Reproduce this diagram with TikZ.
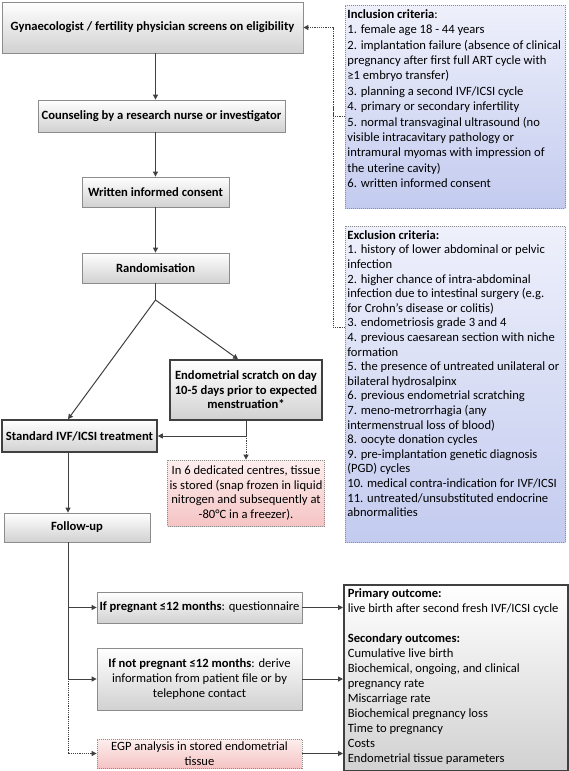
\documentclass[tikz,border=0pt]{standalone}
\usepackage{fontspec}
\setmainfont{Carlito}
\usetikzlibrary{arrows.meta, positioning, calc}

\definecolor{linegray}{HTML}{404040}
\definecolor{boxedge}{HTML}{8C8C8C}
\definecolor{bluetop}{HTML}{EEF0FB}
\definecolor{bluebottom}{HTML}{C3CBEF}
\definecolor{pinktop}{HTML}{FDEEEE}
\definecolor{pinkbottom}{HTML}{F5C4C4}

\begin{document}
\begin{tikzpicture}[x=1pt, y=-1pt,
    font=\fontsize{12.6}{14.6}\selectfont,
    stepbox/.style={draw=boxedge, line width=0.8pt, top color=white, bottom color=black!18, inner sep=2pt, align=center},
    keybox/.style={stepbox, draw=linegray, line width=1.6pt},
    storebox/.style={stepbox, dash pattern=on 1pt off 1pt, top color=pinktop, bottom color=pinkbottom},
    critbox/.style={draw=boxedge, line width=0.8pt, dash pattern=on 1pt off 1pt, top color=bluetop, bottom color=bluebottom, anchor=north west, inner xsep=2pt, inner ysep=4pt},
    line/.style={draw=linegray, line width=1pt},
    arr/.style={line, -{Triangle[length=5pt,width=5pt]}},
    dotarr/.style={arr, dash pattern=on 1.2pt off 1pt},
    dotline/.style={line, dash pattern=on 1.2pt off 1pt}]

    % Page frame
    \useasboundingbox (0,0) rectangle (568,771);

    % Helper coordinates
    \coordinate (split) at (155.5,300);
    \coordinate (trunk) at (68,0);
    \coordinate (bus) at (333,0);

    % Main flow
    \node[stepbox, minimum width=301, minimum height=51] (screen) at (152.5,27.5) {\textbf{Gynaecologist / fertility physician screens on eligibility}};
    \node[stepbox, minimum width=247, minimum height=32] (counsel) at (161.5,116) {\textbf{Counseling by a research nurse or investigator}};
    \node[stepbox, minimum width=147, minimum height=30] (consent) at (155.5,192) {\textbf{Written informed consent}};
    \node[stepbox, minimum width=147, minimum height=30] (random) at (155.5,268) {\textbf{Randomisation}};

    % Study arms
    \node[keybox, minimum width=152, minimum height=60] (scratch) at (246,390) {\textbf{Endometrial scratch on day}\\\textbf{10-5 days prior to expected}\\\textbf{menstruation*}};
    \node[keybox, minimum width=155, minimum height=32] (standard) at (79.5,436) {\textbf{Standard IVF/ICSI treatment}};
    \node[storebox, minimum width=152, minimum height=66] (tissue) at (246,493) {In 6 dedicated centres, tissue\\is stored (snap frozen in liquid\\nitrogen and subsequently at\\-80°C in a freezer).};

    % Follow-up
    \node[stepbox, minimum width=146, minimum height=29] (followup) at (77,527.5) {\textbf{Follow-up}};
    \node[stepbox, minimum width=205, minimum height=31] (pregnant) at (199.5,607.5) {\textbf{If pregnant ≤12 months}: questionnaire};
    \node[stepbox, minimum width=205, minimum height=62] (notpreg) at (199.5,679) {\textbf{If not pregnant ≤12 months}: derive\\information from patient file or by\\telephone contact};
    \node[storebox, minimum width=205, minimum height=29] (egp) at (199.5,753.5) {EGP analysis in stored endometrial\\tissue};

    % Outcomes
    \node[keybox, anchor=north west, align=left, inner sep=4pt, font=\fontsize{12.6}{15}\selectfont] (outcome) at (343,584) {\parbox[t][178pt][t]{216pt}{\raggedright
        \textbf{Primary outcome:}\\
        live birth after second fresh IVF/ICSI cycle\\[15pt]
        \textbf{Secondary outcomes:}\\
        Cumulative live birth\\
        Biochemical, ongoing, and clinical\\
        pregnancy rate\\
        Miscarriage rate\\
        Biochemical pregnancy loss\\
        Time to pregnancy\\
        Costs\\
        Endometrial tissue parameters}};

    % Criteria
    \node[critbox, font=\fontsize{12.6}{15.4}\selectfont] (incl) at (345,5) {\parbox[t][195pt][t]{216pt}{\raggedright
        \textbf{Inclusion criteria}:\\
        1. female age 18 - 44 years\\
        2. implantation failure (absence of clinical\\
        pregnancy after first full ART cycle with\\
        ≥1 embryo transfer)\\
        3. planning a second IVF/ICSI cycle\\
        4. primary or secondary infertility\\
        5. normal transvaginal ultrasound (no\\
        visible intracavitary pathology or\\
        intramural myomas with impression of\\
        the uterine cavity)\\
        6. written informed consent}};
    \node[critbox] (excl) at (345,226) {\parbox[t][308pt][t]{216pt}{\raggedright
        \textbf{Exclusion criteria:}\\
        1. history of lower abdominal or pelvic\\
        infection\\
        2. higher chance of intra-abdominal\\
        infection due to intestinal surgery (e.g.\\
        for Crohn’s disease or colitis)\\
        3. endometriosis grade 3 and 4\\
        4. previous caesarean section with niche\\
        formation\\
        5. the presence of untreated unilateral or\\
        bilateral hydrosalpinx\\
        6. previous endometrial scratching\\
        7. meno-metrorrhagia (any\\
        intermenstrual loss of blood)\\
        8. oocyte donation cycles\\
        9. pre-implantation genetic diagnosis\\
        (PGD) cycles\\
        10. medical contra-indication for IVF/ICSI\\
        11. untreated/unsubstituted endocrine\\
        abnormalities}};

    % Connectors
    \draw[arr] (screen.south -| split) -- (counsel.north -| split);
    \draw[arr] (counsel.south -| split) -- (consent.north -| split);
    \draw[arr] (consent.south -| split) -- (random.north -| split);
    \draw[line] (random.south -| split) -- (split);
    \draw[arr] (split) -- (standard.north -| trunk);
    \draw[arr] (split) -- ([xshift=-8pt]scratch.north);
    \draw[arr] (scratch.south) |- (standard.east);
    \draw[dotarr] (scratch.south |- standard.east) -- (tissue.north);
    \draw[arr] (standard.south -| trunk) -- (followup.north -| trunk);
    \draw[line] (followup.south -| trunk) -- (trunk |- notpreg.west);
    \draw[arr] (trunk |- pregnant.west) -- (pregnant.west);
    \draw[arr] (trunk |- notpreg.west) -- (notpreg.west);
    \draw[dotarr] (trunk |- notpreg.west) |- (egp.west);
    \draw[arr] (pregnant.east) -- (pregnant.east -| outcome.west);
    \draw[arr] (notpreg.east) -- (notpreg.east -| outcome.west);
    \draw[arr] (egp.east) -- (egp.east -| outcome.west);

    % Criteria links
    \draw[dotarr] ([yshift=-10pt]incl.west) -| (bus |- screen.east) -- (screen.east);
    \draw[dotline] ([yshift=57pt]excl.west) -| (bus |- incl.west);
\end{tikzpicture}
\end{document}
